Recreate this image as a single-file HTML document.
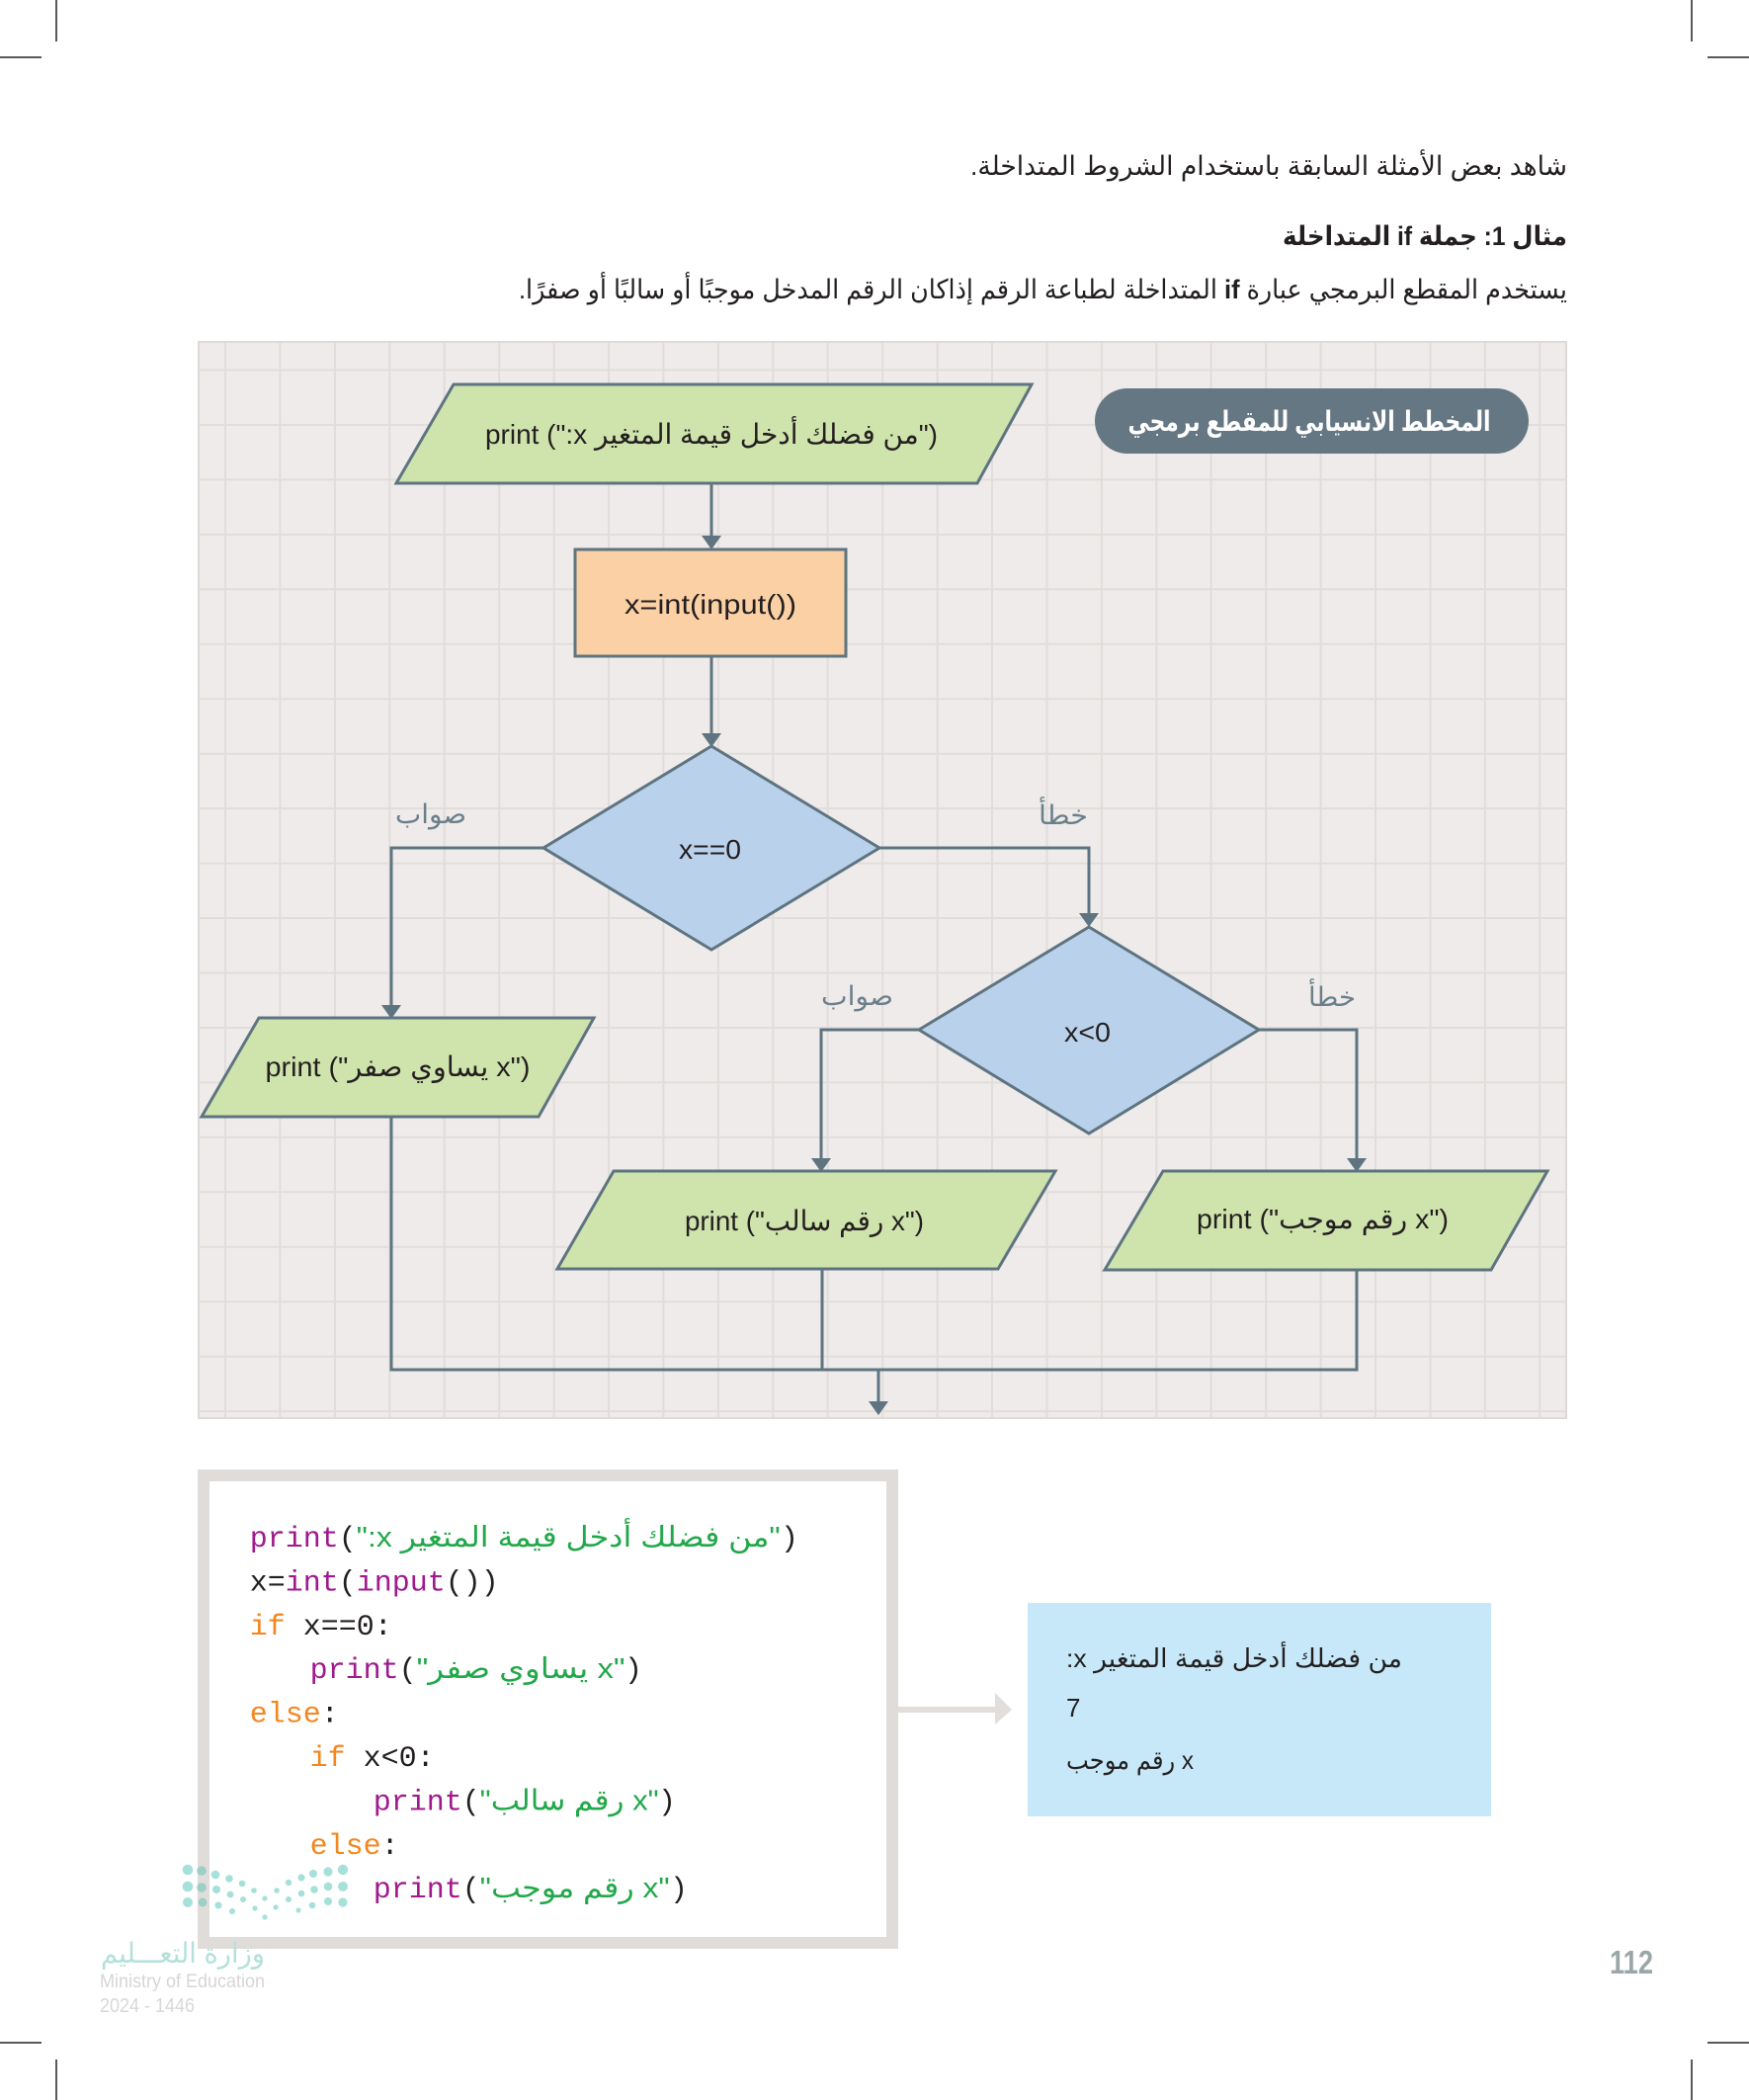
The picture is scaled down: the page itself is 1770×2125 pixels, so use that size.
<!DOCTYPE html>
<html>
<head>
<meta charset="utf-8">
<style>
html,body{margin:0;padding:0;background:#fff;}
svg{display:block;}
.s{font-family:"Liberation Sans","DejaVu Sans",sans-serif;}
.m{font-family:"Liberation Mono","DejaVu Sans Mono",monospace;font-size:30px;}
</style>
</head>
<body>
<svg width="1770" height="2125" viewBox="0 0 1770 2125" xmlns="http://www.w3.org/2000/svg">
<!-- crop marks -->
<g stroke="#222" stroke-width="1.5">
<line x1="57" y1="0" x2="57" y2="42"/>
<line x1="0" y1="58" x2="42" y2="58"/>
<line x1="1712" y1="0" x2="1712" y2="42"/>
<line x1="1728" y1="58" x2="1770" y2="58"/>
<line x1="0" y1="2067" x2="42" y2="2067"/>
<line x1="57" y1="2084" x2="57" y2="2125"/>
<line x1="1728" y1="2067" x2="1770" y2="2067"/>
<line x1="1712" y1="2084" x2="1712" y2="2125"/>
</g>

<!-- top paragraphs -->
<text class="s" x="1284" y="177" font-size="27" fill="#231f20" text-anchor="middle" direction="rtl" textLength="604" lengthAdjust="spacingAndGlyphs">&#x2067;شاهد بعض الأمثلة السابقة باستخدام الشروط المتداخلة.&#x2069;</text>
<text class="s" x="1442" y="248" font-size="27" font-weight="bold" fill="#231f20" text-anchor="middle" direction="rtl" textLength="288" lengthAdjust="spacingAndGlyphs">&#x2067;مثال 1: جملة if المتداخلة&#x2069;</text>
<text class="s" x="1055.5" y="302" font-size="27" fill="#231f20" text-anchor="middle" direction="rtl" textLength="1061" lengthAdjust="spacingAndGlyphs">&#x2067;يستخدم المقطع البرمجي عبارة <tspan font-weight="bold">if</tspan> المتداخلة لطباعة الرقم إذاكان الرقم المدخل موجبًا أو سالبًا أو صفرًا.&#x2069;</text>

<!-- panel -->
<rect x="201" y="346" width="1384" height="1089" fill="#efebea" stroke="#dedad8" stroke-width="2"/>
<path stroke="#e1dddb" stroke-width="2" fill="none" d="M228 347V1434M283.4 347V1434M338.9 347V1434M394.3 347V1434M449.7 347V1434M505.2 347V1434M560.6 347V1434M616 347V1434M671.4 347V1434M726.9 347V1434M782.3 347V1434M837.7 347V1434M893.2 347V1434M948.6 347V1434M1004 347V1434M1059.5 347V1434M1114.9 347V1434M1170.3 347V1434M1225.7 347V1434M1281.2 347V1434M1336.6 347V1434M1392 347V1434M1447.5 347V1434M1502.9 347V1434M1558.3 347V1434
M202 374.5H1584M202 430H1584M202 485.4H1584M202 540.9H1584M202 596.3H1584M202 651.8H1584M202 707.2H1584M202 762.7H1584M202 818.1H1584M202 873.6H1584M202 929H1584M202 984.5H1584M202 1039.9H1584M202 1095.4H1584M202 1150.8H1584M202 1206.3H1584M202 1261.7H1584M202 1317.2H1584M202 1372.6H1584M202 1428.1H1584"/>

<!-- title pill -->
<rect x="1108" y="393" width="439" height="66" rx="33" ry="33" fill="#647783"/>
<text class="s" x="1325" y="436" font-size="28" font-weight="bold" fill="#ffffff" text-anchor="middle" direction="rtl" textLength="367" lengthAdjust="spacingAndGlyphs">&#x2067;المخطط الانسيابي للمقطع برمجي&#x2069;</text>

<!-- connectors -->
<g stroke="#5e7480" stroke-width="3" fill="none">
<line x1="720" y1="488" x2="720" y2="545"/>
<line x1="720" y1="664" x2="720" y2="745"/>
<polyline points="550,858 396,858 396,1020"/>
<polyline points="890,858 1102,858 1102,927"/>
<polyline points="930,1042 831,1042 831,1175"/>
<polyline points="1274,1042 1373,1042 1373,1175"/>
<polyline points="396,1130 396,1386 1373,1386 1373,1285"/>
<line x1="832" y1="1284" x2="832" y2="1386"/>
<line x1="889" y1="1386" x2="889" y2="1420"/>
</g>
<g fill="#5e7480">
<polygon points="710,542 730,542 720,556"/>
<polygon points="710,742 730,742 720,756"/>
<polygon points="386,1017 406,1017 396,1031"/>
<polygon points="1092,924 1112,924 1102,938"/>
<polygon points="821,1172 841,1172 831,1186"/>
<polygon points="1363,1172 1383,1172 1373,1186"/>
<polygon points="879,1418 899,1418 889,1432"/>
</g>

<!-- shapes -->
<g stroke="#5e7480" stroke-width="3">
<polygon points="459,389 1044,389 989,489 401,489" fill="#cfe3ac"/>
<rect x="582" y="556" width="274" height="108" fill="#fbd0a5"/>
<polygon points="720,755 890,858 720,961 550,858" fill="#bad1ec"/>
<polygon points="1102,938 1274,1042 1102,1147 930,1042" fill="#bad1ec"/>
<polygon points="262,1030 601,1030 545,1130 204,1130" fill="#cfe3ac"/>
<polygon points="621,1185 1068,1185 1010,1284 564,1284" fill="#cfe3ac"/>
<polygon points="1177,1185 1566,1185 1509,1285 1118,1285" fill="#cfe3ac"/>
</g>

<!-- shape texts -->
<g class="s" fill="#231f20" font-size="28" text-anchor="middle">
<text x="720" y="449" textLength="458" lengthAdjust="spacingAndGlyphs">print ("&#x2067;من فضلك أدخل قيمة المتغير x:&#x2069;")</text>
<text x="719" y="621" textLength="174" lengthAdjust="spacingAndGlyphs">x=int(input())</text>
<text x="718.5" y="869" textLength="63" lengthAdjust="spacingAndGlyphs">x==0</text>
<text x="1100.5" y="1054" textLength="47" lengthAdjust="spacingAndGlyphs">x&lt;0</text>
<text x="402.5" y="1089" textLength="268" lengthAdjust="spacingAndGlyphs">print ("&#x2067;x يساوي صفر&#x2069;")</text>
<text x="814" y="1245" textLength="242" lengthAdjust="spacingAndGlyphs">print ("&#x2067;x رقم سالب&#x2069;")</text>
<text x="1338.5" y="1243" textLength="255" lengthAdjust="spacingAndGlyphs">print ("&#x2067;x رقم موجب&#x2069;")</text>
</g>

<!-- labels -->
<g class="s" fill="#6b7f8a" font-size="27" text-anchor="middle">
<text x="436" y="833" textLength="72" lengthAdjust="spacingAndGlyphs">صواب</text>
<text x="1076" y="834" textLength="50" lengthAdjust="spacingAndGlyphs">خطأ</text>
<text x="867.5" y="1017" textLength="73" lengthAdjust="spacingAndGlyphs">صواب</text>
<text x="1348" y="1018" textLength="48" lengthAdjust="spacingAndGlyphs">خطأ</text>
</g>

<!-- code box -->
<rect x="206" y="1493" width="697" height="473" fill="#ffffff" stroke="#e0dcda" stroke-width="12"/>
<g class="m">
<text x="252.7" y="1565"><tspan fill="#a0198e">print</tspan><tspan fill="#231f20">(</tspan></text>
<text class="s" x="360.7" y="1565" font-size="29" fill="#22a84a" textLength="429" lengthAdjust="spacingAndGlyphs">"&#x2067;من فضلك أدخل قيمة المتغير x:&#x2069;"</text>
<text x="790" y="1565" fill="#231f20">)</text>

<text x="252.7" y="1609.4"><tspan fill="#231f20">x=</tspan><tspan fill="#a0198e">int</tspan><tspan fill="#231f20">(</tspan><tspan fill="#a0198e">input</tspan><tspan fill="#231f20">())</tspan></text>

<text x="252.7" y="1653.8"><tspan fill="#f4861f">if</tspan><tspan x="306.7" fill="#231f20">x==0:</tspan></text>

<text x="313.6" y="1698.2"><tspan fill="#a0198e">print</tspan><tspan fill="#231f20">(</tspan></text>
<text class="s" x="421.6" y="1698.2" font-size="29" fill="#22a84a" textLength="211" lengthAdjust="spacingAndGlyphs">"&#x2067;x يساوي صفر&#x2069;"</text>
<text x="632" y="1698.2" fill="#231f20">)</text>

<text x="252.7" y="1742.6"><tspan fill="#f4861f">else</tspan><tspan fill="#231f20">:</tspan></text>

<text x="313.6" y="1787"><tspan fill="#f4861f">if</tspan><tspan x="367.6" fill="#231f20">x&lt;0:</tspan></text>

<text x="377.7" y="1831.4"><tspan fill="#a0198e">print</tspan><tspan fill="#231f20">(</tspan></text>
<text class="s" x="485.7" y="1831.4" font-size="29" fill="#22a84a" textLength="181" lengthAdjust="spacingAndGlyphs">"&#x2067;x رقم سالب&#x2069;"</text>
<text x="666" y="1831.4" fill="#231f20">)</text>

<text x="313.6" y="1875.8"><tspan fill="#f4861f">else</tspan><tspan fill="#231f20">:</tspan></text>

<text x="377.7" y="1920.2"><tspan fill="#a0198e">print</tspan><tspan fill="#231f20">(</tspan></text>
<text class="s" x="485.7" y="1920.2" font-size="29" fill="#22a84a" textLength="192" lengthAdjust="spacingAndGlyphs">"&#x2067;x رقم موجب&#x2069;"</text>
<text x="678" y="1920.2" fill="#231f20">)</text>
</g>

<!-- arrow to output -->
<rect x="909" y="1727" width="99" height="6" fill="#e2dedc"/>
<polygon points="1007,1713 1024,1730 1007,1745" fill="#e2dedc"/>

<!-- output box -->
<rect x="1040" y="1622" width="469" height="216" fill="#c6e8f8"/>
<g class="s" fill="#231f20" font-size="26">
<text x="1079" y="1687" textLength="340" lengthAdjust="spacingAndGlyphs">&#x2067;من فضلك أدخل قيمة المتغير x:&#x2069;</text>
<text x="1079" y="1737">7</text>
<text x="1079" y="1790" textLength="129" lengthAdjust="spacingAndGlyphs">&#x2067;x رقم موجب&#x2069;</text>
</g>

<!-- logo dots -->
<g fill="#a6e0da">
<circle cx="190" cy="1892" r="5.3"/><circle cx="190" cy="1909" r="5.3"/><circle cx="190" cy="1925" r="5"/>
<circle cx="204" cy="1893" r="4.8" fill="#9ccfc8"/><circle cx="204" cy="1910" r="4.8" fill="#9ccfc8"/><circle cx="205" cy="1925" r="4.5" fill="#9ccfc8"/>
<circle cx="218" cy="1897" r="4.3"/><circle cx="219" cy="1912" r="4"/><circle cx="221" cy="1928" r="3.6"/>
<circle cx="232" cy="1901" r="3.8"/><circle cx="233" cy="1917" r="3.4"/><circle cx="235" cy="1934" r="3"/>
<circle cx="245" cy="1906" r="3.3"/><circle cx="246" cy="1922" r="3"/>
<circle cx="257" cy="1913" r="2.8"/><circle cx="258" cy="1931" r="2.6"/>
<circle cx="268" cy="1921" r="2.6"/><circle cx="268" cy="1940" r="2.6"/>
<circle cx="280" cy="1913" r="2.8"/><circle cx="279" cy="1930" r="2.6"/>
<circle cx="292" cy="1905" r="3.2"/><circle cx="292" cy="1922" r="3"/><circle cx="302" cy="1933" r="2.6"/>
<circle cx="305" cy="1900" r="3.6"/><circle cx="305" cy="1916" r="3.3"/>
<circle cx="317" cy="1896" r="4"/><circle cx="318" cy="1912" r="3.8"/><circle cx="316" cy="1928" r="3.3"/>
<circle cx="332" cy="1894" r="4.6"/><circle cx="332" cy="1909" r="4.3"/><circle cx="332" cy="1924" r="4"/>
<circle cx="347" cy="1892" r="5.2"/><circle cx="347" cy="1909" r="5"/><circle cx="347" cy="1925" r="4.6"/>
</g>
<text class="s" x="102" y="1986" font-size="28" fill="#b3e1da" textLength="166" lengthAdjust="spacingAndGlyphs" direction="rtl" text-anchor="end">&#x2067;وزارة التعـــليم&#x2069;</text>
<text class="s" x="101" y="2011" font-size="19" fill="#d6d6d6" textLength="167" lengthAdjust="spacingAndGlyphs">Ministry of Education</text>
<text class="s" x="101" y="2036" font-size="20" fill="#d8d8d8" textLength="96" lengthAdjust="spacingAndGlyphs">2024 - 1446</text>

<!-- page number -->
<text class="s" x="1629" y="1997" font-size="33" font-weight="bold" fill="#9ba7a7" textLength="44" lengthAdjust="spacingAndGlyphs">112</text>
</svg>
</body>
</html>
